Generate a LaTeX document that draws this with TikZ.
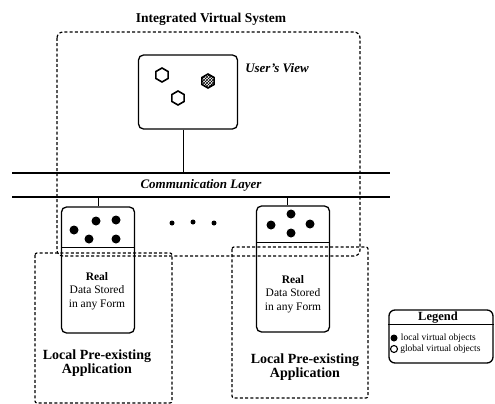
\documentclass[tikz,border=0pt]{standalone}
\usepackage{fontspec}
\setmainfont{Liberation Serif}
\usetikzlibrary{shapes.geometric, positioning, calc, patterns}

\begin{document}
\begin{tikzpicture}[
        x=1pt, y=-1pt,
        box/.style={
            rectangle, draw=black, line width=1.3pt, rounded corners=5pt,
            inner sep=0pt
        },
        dashbox/.style={draw=black, line width=1.2pt, dash pattern=on 3pt off 2.2pt, rounded corners=4pt},
        link/.style={draw=black, line width=1pt},
        hexobj/.style={regular polygon, regular polygon sides=6, rotate=30, draw=black,
            line width=1.6pt, minimum size=14pt, inner sep=0pt},
        localobj/.style={circle, fill=black, minimum size=9pt, inner sep=0pt},
        dotsobj/.style={circle, fill=black, minimum size=5pt, inner sep=0pt},
        datatext/.style={align=center, font=\fontsize{11.5}{13.5}\selectfont},
        apptext/.style={align=center, font=\bfseries\fontsize{14}{13.5}\selectfont},
        keytext/.style={inner sep=0pt, font=\fontsize{9.5}{10}\selectfont}
    ]
    \useasboundingbox (0,0) rectangle (495,404);

    % --- Integrated system ---
    \node[font=\bfseries\fontsize{13.5}{14}\selectfont] (title) at (211,19) {Integrated Virtual System};
    \draw[dashbox, rounded corners=6pt] (57,32) rectangle (360,256);

    \node[box, minimum width=99pt, minimum height=74pt] (users) at (188,92) {};
    \node[font=\bfseries\itshape\fontsize{13}{14}\selectfont] (userslabel) at (277,68) {User's View};
    \node[hexobj] (hexa) at (162,75) {};
    \node[hexobj, pattern=crosshatch, pattern color=black] (hexb) at (208,81) {};
    \node[hexobj] (hexc) at (178,98) {};

    % --- Communication layer ---
    \node[minimum width=377pt, minimum height=23.5pt, inner sep=0pt,
        font=\bfseries\itshape\fontsize{13}{14}\selectfont] (comm) at (201,185) {Communication Layer};
    \draw[link, line width=1.2pt] (comm.north west) -- (comm.north east);
    \draw[link, line width=1.2pt] (comm.south west) -- (comm.south east);
    \draw[link] (users.south -| 183,0) -- (comm.north -| 183,0);

    % --- Local data boxes ---
    \node[box, minimum width=73pt, minimum height=126pt] (leftdb) at (98,270) {};
    \draw[box] ($(leftdb.north west)+(0,41)$) -- ($(leftdb.north east)+(0,41)$);
    \node[datatext] (lefttext) at (97,291) {\textbf{Real}\\Data Stored\\in any Form};
    \node[localobj] (la) at (74,230) {};
    \node[localobj] (lb) at (96,221) {};
    \node[localobj] (lc) at (116,220) {};
    \node[localobj] (ld) at (89,239) {};
    \node[localobj] (le) at (116,239) {};
    \draw[link] (leftdb.north) -- (leftdb.north |- comm.south);

    \node[dotsobj] (dota) at (172,223) {};
    \node[dotsobj] (dotb) at (193,222) {};
    \node[dotsobj] (dotc) at (214,223) {};

    \node[box, minimum width=73pt, minimum height=126pt] (rightdb) at (293,269) {};
    \draw[box] ($(rightdb.north west)+(0,37)$) -- ($(rightdb.north east)+(0,37)$);
    \node[datatext] (righttext) at (293,294) {\textbf{Real}\\Data Stored\\in any Form};
    \node[localobj] (ra) at (291,214) {};
    \node[localobj] (rb) at (271,225) {};
    \node[localobj] (rc) at (310,224) {};
    \node[localobj] (rd) at (291,233) {};
    \draw[link] (rightdb.north -| 287,0) -- (comm.south -| 287,0);

    % --- Local applications ---
    \draw[dashbox, rounded corners=2pt] (35,253) rectangle (172,403);
    \node[apptext] (leftapp) at (97,363) {Local Pre-existing\\Application};
    \draw[dashbox, rounded corners=2pt] (232,247) rectangle (368,398);
    \node[apptext] (rightapp) at (305,367) {Local Pre-existing\\Application};

    % --- Legend ---
    \node[box, rounded corners=6pt, minimum width=104pt, minimum height=53pt] (legend) at (441,336.5) {};
    \node[font=\bfseries\fontsize{12.5}{12}\selectfont] (legendtitle) at (438,318) {Legend};
    \draw[box] ($(legend.north west)+(0,15)$) -- ($(legend.north east)+(0,15)$);
    \node[localobj, minimum size=7pt] (keyloc) at (394,338) {};
    \node[keytext, right=3pt of keyloc] (keyloctext) {local virtual objects};
    \node[circle, draw=black, line width=1.1pt, minimum size=7pt, inner sep=0pt] (keyglob) at (394,349) {};
    \node[keytext, right=2pt of keyglob] (keyglobtext) {global virtual objects};

\end{tikzpicture}
\end{document}
